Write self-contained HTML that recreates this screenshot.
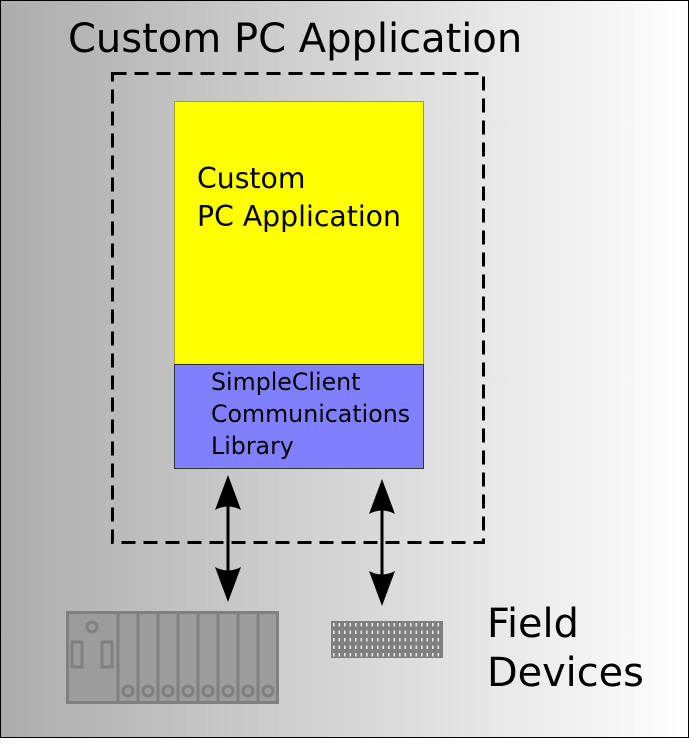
<!DOCTYPE html>
<html><head><style>
html,body{margin:0;padding:0;}
body{width:689px;height:738px;overflow:hidden;}
svg text{font-family:"DejaVu Sans","Liberation Sans",sans-serif;}
</style></head><body>
<svg width="689" height="738" viewBox="0 0 689 738" xmlns="http://www.w3.org/2000/svg">
<defs>
<linearGradient id="bg" x1="0" y1="0" x2="1" y2="0">
<stop offset="0" stop-color="#acacac"/>
<stop offset="1" stop-color="#ffffff"/>
</linearGradient>
<pattern id="io" x="331" y="621" width="5.5" height="7.5" patternUnits="userSpaceOnUse">
<rect width="5.5" height="7.5" fill="#7f7f7f"/>
<rect x="2" y="2" width="1.6" height="3.5" fill="#e6e6e6"/>
</pattern>
</defs>
<rect x="0.5" y="0.5" width="688" height="737" fill="url(#bg)" stroke="#000" stroke-width="1"/>
<text x="68" y="52" font-size="40" fill="#000">Custom PC Application</text>
<rect x="112.5" y="73.5" width="371" height="469" fill="none" stroke="#000" stroke-width="3" stroke-dasharray="14,8"/>
<rect x="174.5" y="101.5" width="249" height="263" fill="#ffff00" stroke="#a0a020" stroke-width="1"/>
<text x="197" y="188" font-size="28.3">Custom</text>
<text x="197" y="226" font-size="28.3">PC Application</text>
<rect x="174.5" y="364.5" width="249" height="104" fill="#8080ff" stroke="#333" stroke-width="1"/>
<text x="211" y="390" font-size="23.7">SimpleClient</text>
<text x="211" y="422" font-size="23.7">Communications</text>
<text x="211" y="454" font-size="23.7">Library</text>
<g fill="#000" stroke="#000">
<line x1="228" y1="500" x2="228" y2="580" stroke-width="3"/>
<path d="M228 475 L241 510 Q228 503 215 510 Z" stroke="none"/>
<path d="M228 602 L241 567 Q228 574 215 567 Z" stroke="none"/>
<line x1="382" y1="505" x2="382" y2="584" stroke-width="3"/>
<path d="M382 479 L395 514 Q382 507 369 514 Z" stroke="none"/>
<path d="M382 606 L395 571 Q382 578 369 571 Z" stroke="none"/>
</g>
<g stroke="#808080" stroke-width="3" fill="#9c9c9c">
<rect x="67.5" y="612.5" width="210" height="90"/>
<line x1="118" y1="612" x2="118" y2="703"/>
<line x1="138" y1="612" x2="138" y2="703"/>
<line x1="158" y1="612" x2="158" y2="703"/>
<line x1="178" y1="612" x2="178" y2="703"/>
<line x1="198" y1="612" x2="198" y2="703"/>
<line x1="218" y1="612" x2="218" y2="703"/>
<line x1="238" y1="612" x2="238" y2="703"/>
<line x1="258" y1="612" x2="258" y2="703"/>
<circle cx="92" cy="627" r="5"/>
<rect x="72" y="642" width="10" height="25"/>
<rect x="102" y="642" width="10" height="25"/>
<circle cx="128" cy="691" r="5"/>
<circle cx="148" cy="691" r="5"/>
<circle cx="168" cy="691" r="5"/>
<circle cx="188" cy="691" r="5"/>
<circle cx="208" cy="691" r="5"/>
<circle cx="228" cy="691" r="5"/>
<circle cx="248" cy="691" r="5"/>
<circle cx="268" cy="691" r="5"/>
</g>
<rect x="331" y="621" width="112" height="37" fill="url(#io)"/>
<text x="487" y="637" font-size="39.8">Field</text>
<text x="487" y="686" font-size="39.8">Devices</text>
</svg>
</body></html>
